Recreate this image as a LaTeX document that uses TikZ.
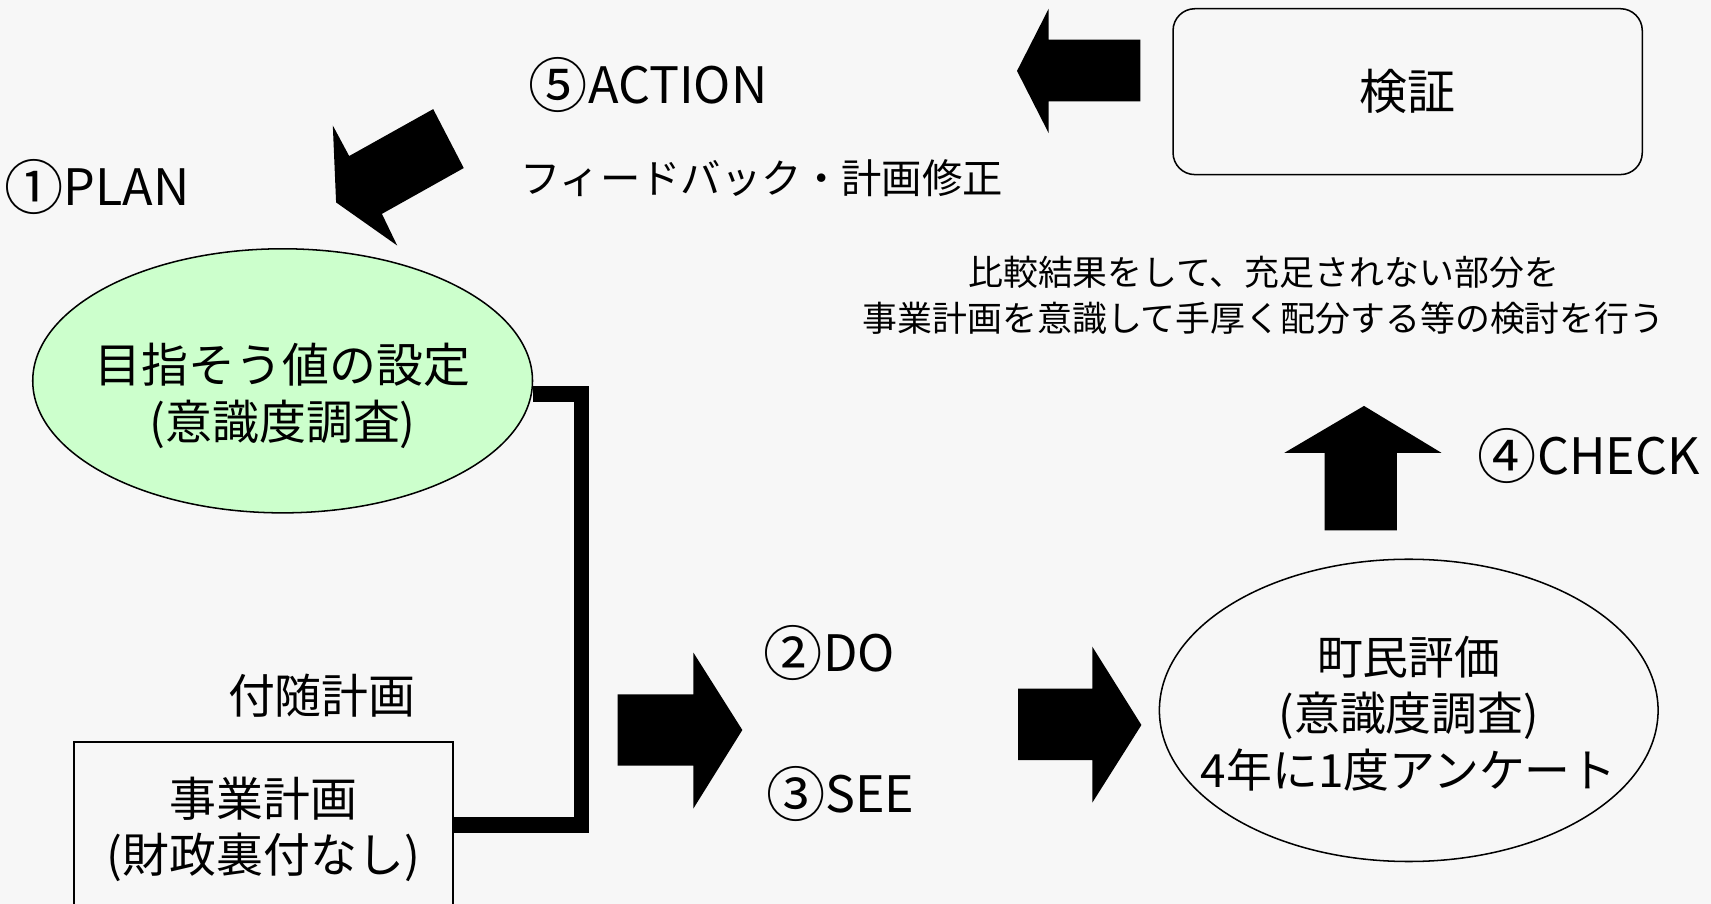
\documentclass[tikz,border=0pt]{standalone}
\usepackage{fontspec}
\setmainfont{Noto Sans CJK JP}
\usetikzlibrary{shapes.geometric}
\definecolor{bgcol}{HTML}{F7F7F7}
\definecolor{ellgreen}{HTML}{CCFFCC}
\newcommand{\circnum}[1]{\raisebox{-0.08em}{\scalebox{1.18}{#1}}}
\begin{document}
\begin{tikzpicture}[x=0.5pt,y=-0.5pt,
  lbl/.style={inner sep=0pt, font=\fontsize{23}{28}\selectfont},
  jp/.style={inner sep=0pt, align=center, font=\fontsize{21.5}{26}\selectfont},
  note/.style={inner sep=0pt, align=center, font=\fontsize{16}{21}\selectfont},
  thinline/.style={draw=black, line width=0.7pt},
  blockarrow/.style={fill=black},
  conn/.style={draw=black, line width=7pt, line join=miter}
]
\fill[bgcol] (0,0) rectangle (1568,828);
\clip (0,0) rectangle (1568,828);

% nodes
\node[lbl] (plan) at (89,171) {\circnum{①}PLAN};
\node[lbl] (action) at (594,78) {\circnum{⑤}ACTION};
\node[inner sep=0pt, font=\fontsize{18.5}{22}\selectfont] (fb) at (698,163) {フィードバック・計画修正};
\node[thinline, rounded corners=10pt, minimum width=215pt, minimum height=76pt, inner sep=0pt, font=\fontsize{22}{26}\selectfont] (verify) at (1290,84) {検証};
\node[note] (cmt) at (1158,271) {比較結果をして、充足されない部分を\\事業計画を意識して手厚く配分する等の検討を行う};
\node[lbl] (check) at (1456,418) {\circnum{④}CHECK};

\node[ellipse, thinline, fill=ellgreen, minimum width=229pt, minimum height=121pt, inner sep=0pt] (goal) at (259,349) {};
\node[jp] (goaltxt) at ([yshift=-7pt]goal.center) {目指そう値の設定\\(意識度調査)};

\node[jp] (fuzui) at (295,638) {付随計画};
\node[thinline, minimum width=173.5pt, minimum height=80pt, inner sep=0pt, jp] (jigyo) at (241.5,760) {事業計画\\(財政裏付なし)};

\node[lbl] (do) at (760,598) {\circnum{②}DO};
\node[lbl] (see) at (770,728) {\circnum{③}SEE};

\node[ellipse, thinline, minimum width=228.5pt, minimum height=138.5pt, inner sep=0pt] (town) at (1291,651) {};
\node[jp, font=\fontsize{21}{26}\selectfont] (towntxt) at ([yshift=-1.5pt]town.center) {町民評価\\(意識度調査)\\4年に1度アンケート};

% connector
\coordinate (cb) at (533,756);
\draw[conn] ([yshift=-6pt]goal.east) -| (cb) -- ([yshift=2pt]jigyo.east);

% block arrows
\fill[blockarrow] (397,100) -- (425,154) -- (350,196) -- (364,225) -- (308,185.5) -- (305,115) -- (320,143) -- cycle;
\fill[blockarrow] (1045,36.3) -- (961,36.3) -- (961,8) -- (932,65) -- (961,122) -- (961,93) -- (1045,93) -- cycle;
\fill[blockarrow] (1214,486) -- (1214,415) -- (1177,415) -- (1250,372) -- (1321,415) -- (1280,415) -- (1280,486) -- cycle;
\fill[blockarrow] (566,636.3) -- (635.4,636.3) -- (635.4,598) -- (680.3,669) -- (635.4,741) -- (635.4,701.7) -- (566,701.7) -- cycle;
\fill[blockarrow] (933,631) -- (1001,631) -- (1001,592.6) -- (1046,664.4) -- (1001,735.6) -- (1001,696.5) -- (933,696.5) -- cycle;
\end{tikzpicture}
\end{document}
